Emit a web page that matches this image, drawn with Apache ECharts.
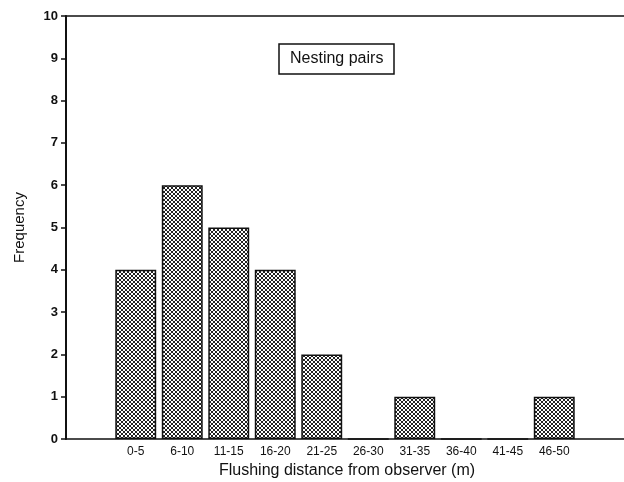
<!DOCTYPE html>
<html>
<head>
<meta charset="utf-8">
<script src="https://cdn.jsdelivr.net/npm/echarts@6/dist/echarts.min.js"></script>
<style>
  html, body { margin: 0; padding: 0; background: #fff; }
  #chart { width: 624px; height: 482px; }
</style>
</head>
<body>
<div id="chart"></div>
<script>
// blank slot on each side of the bins, like the original figure
const categories = ['', '0-5', '6-10', '11-15', '16-20', '21-25', '26-30', '31-35', '36-40', '41-45', '46-50', ''];
const frequency = [null, 4, 6, 5, 4, 2, 0, 1, 0, 0, 1, null];
const yTicks = [0, 10, 1];

// cross-hatch fill for the bars (two diagonals on a 4px tile)
function hatch() {
    const c = document.createElement('canvas');
    c.width = 4;
    c.height = 4;
    const ctx = c.getContext('2d');
    ctx.fillStyle = '#ffffff';
    ctx.fillRect(0, 0, 4, 4);
    ctx.fillStyle = '#222';
    for (let i = 0; i < 4; i++) {
        ctx.fillRect(i, i, 1, 1);
        ctx.fillRect(3 - i, i, 1, 1);
    }
    return c;
}

const font = 'Liberation Sans, Arial, Helvetica, sans-serif';
const chart = echarts.init(document.getElementById('chart'));

chart.setOption({
    animation: false,
    backgroundColor: '#fff',
    title: {
        text: 'Nesting pairs',
        left: 279,
        top: 44,
        padding: [7, 11, 7, 11],
        borderColor: '#111',
        borderWidth: 1.5,
        textStyle: { fontFamily: font, fontSize: 16, fontWeight: 'normal', color: '#111' }
    },
    grid: { left: 66, right: 0, top: 16, bottom: 43, outerBoundsMode: 'none', containLabel: false },
    xAxis: [{
        type: 'category',
        data: categories,
        name: 'Flushing distance from observer (m)',
        nameLocation: 'middle',
        nameGap: 20,
        nameTextStyle: { fontFamily: font, fontSize: 16, color: '#111', padding: [0, 0, 0, 4] },
        axisLine: { lineStyle: { color: '#111', width: 1.5 } },
        axisTick: {
            length: 5,
            lineStyle: { color: '#111', width: 1.5 },
            interval: function (i) { return i >= 2 && i <= 10; }
        },
        axisLabel: { fontFamily: font, fontSize: 12, color: '#111', margin: 7, interval: 0 }
    }, {
        type: 'category',
        position: 'top',
        data: categories,
        axisLine: { lineStyle: { color: '#111', width: 1.5 } },
        axisTick: { show: false },
        axisLabel: { show: false }
    }],
    yAxis: {
        type: 'value',
        min: yTicks[0],
        max: yTicks[1],
        interval: yTicks[2],
        name: 'Frequency',
        nameLocation: 'middle',
        nameGap: 39,
        nameTextStyle: { fontFamily: font, fontSize: 15, color: '#111' },
        splitLine: { show: false },
        axisLine: { show: true, lineStyle: { color: '#111', width: 2 } },
        axisTick: { show: true, length: 5, lineStyle: { color: '#111', width: 1.5 } },
        axisLabel: { fontFamily: font, fontSize: 13, fontWeight: 'bold', color: '#111', margin: 8 }
    },
    series: [{
        type: 'bar',
        data: frequency,
        barWidth: '88%',
        itemStyle: {
            color: { image: hatch(), repeat: 'repeat' },
            borderColor: '#111',
            borderWidth: 1.5
        }
    }]
});
</script>
</body>
</html>
